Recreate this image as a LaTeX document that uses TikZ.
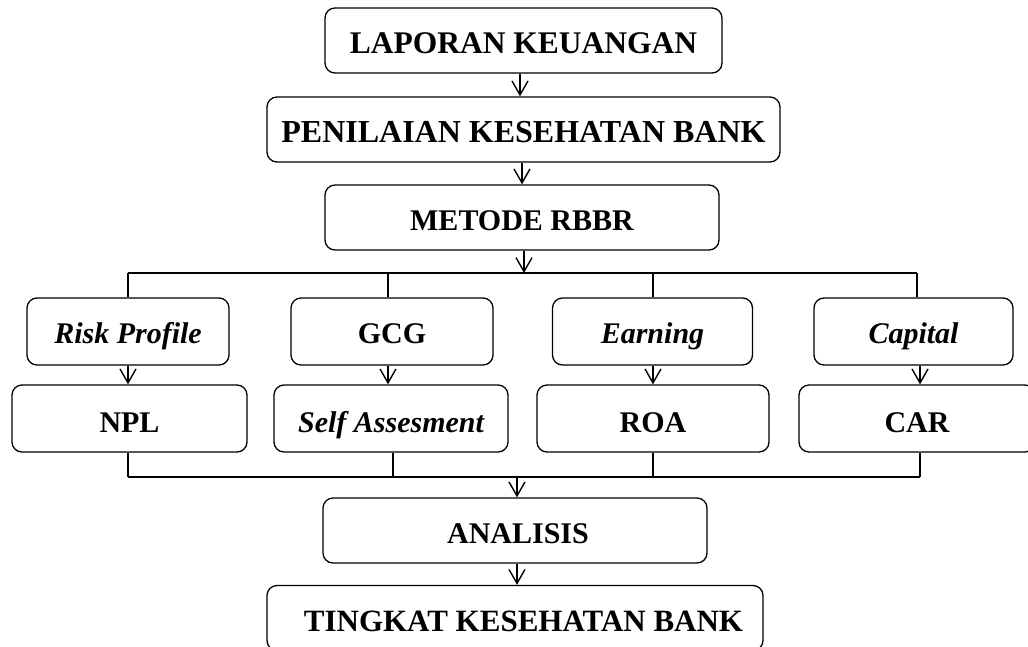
\documentclass[tikz,border=0pt]{standalone}
\usepackage{fontspec}
\setmainfont{Liberation Serif}
\usetikzlibrary{arrows.meta}
\tikzset{
  box/.style={draw=black, line width=1.3pt, rounded corners=10pt, inner sep=0pt,
    font=\fontsize{30}{34}\selectfont\bfseries, align=center,
    text height=26pt, text depth=1pt},
  rowone/.style={box, minimum height=67pt, text height=24pt, text depth=1pt},
  rowtwo/.style={box, minimum height=67pt, text height=28pt, text depth=1pt},
  conn/.style={draw=black, line width=1.4pt},
  arr/.style={conn, -{Straight Barb[length=14pt, width=16pt, line width=1.4pt]}}
}
\begin{document}
\begin{tikzpicture}[x=1pt, y=-1pt]
\useasboundingbox (0,0) rectangle (1028,646);
\clip (0,0) rectangle (1028,646);
% top chain
\node[box, font=\fontsize{31.5}{34}\selectfont\bfseries, minimum width=397pt, minimum height=65pt] (lap) at (523.5,40.5) {LAPORAN KEUANGAN};
\node[box, font=\fontsize{32}{36}\selectfont\bfseries, minimum width=513pt, minimum height=65pt] (pen) at (523.5,129.5) {PENILAIAN KESEHATAN BANK};
\node[box, minimum width=394pt, minimum height=65pt] (met) at (522,217.5) {METODE RBBR};
% row 1
\node[rowone, minimum width=202pt] (rp) at (128,331.5) {\itshape Risk Profile};
\node[rowone, minimum width=202pt] (gcg) at (392,331.5) {GCG};
\node[rowone, minimum width=200pt] (ear) at (652.5,331.5) {\itshape Earning};
\node[rowone, minimum width=199pt] (cap) at (913.5,331.5) {\itshape Capital};
% row 2
\node[rowtwo, minimum width=235pt] (npl) at (129.5,418.5) {NPL};
\node[rowtwo, minimum width=234pt] (sa) at (391,418.5) {\itshape Self Assesment};
\node[rowtwo, minimum width=232pt] (roa) at (653,418.5) {ROA};
\node[rowtwo, minimum width=236pt] (car) at (917,418.5) {CAR};
% bottom
\node[box, minimum width=384pt, minimum height=65pt] (ana) at (515,530.5) {\hspace*{6pt}ANALISIS};
\node[box, font=\fontsize{31}{34}\selectfont\bfseries, minimum width=496pt, minimum height=65pt,
  text height=28pt, text depth=1pt] (tkb) at (515,618) {\hspace*{17pt}TINGKAT KESEHATAN BANK};
% column coordinates
\coordinate (a1) at (520,0);
\coordinate (a2) at (522,0);
\coordinate (a3) at (524,0);
\coordinate (a4) at (517,0);
\coordinate (a5) at (517,0);
\coordinate (u1) at (128,273);
\coordinate (u2) at (388,273);
\coordinate (u3) at (653,273);
\coordinate (u4) at (917,273);
\coordinate (v1) at (128,477);
\coordinate (v2) at (393,477);
\coordinate (v3) at (653,477);
\coordinate (v4) at (920,477);
\coordinate (w4) at (920,0);
% connectors top
\draw[arr] (lap.south -| a1) -- (pen.north -| a1);
\draw[arr] (pen.south -| a2) -- (met.north -| a2);
\draw[arr] (met.south -| a3) -- (u1 -| a3);
\draw[conn] (u1) -- (u4);
\draw[conn] (u1) -- (rp.north -| u1);
\draw[conn] (u2) -- (gcg.north -| u2);
\draw[conn] (u3) -- (ear.north -| u3);
\draw[conn] (u4) -- (cap.north -| u4);
% row arrows
\draw[arr] (rp.south -| u1) -- (npl.north -| u1);
\draw[arr] (gcg.south -| u2) -- (sa.north -| u2);
\draw[arr] (ear.south -| u3) -- (roa.north -| u3);
\draw[arr] (cap.south -| w4) -- (car.north -| w4);
% bottom bus
\draw[conn] (npl.south -| v1) -- (v1);
\draw[conn] (sa.south -| v2) -- (v2);
\draw[conn] (roa.south -| v3) -- (v3);
\draw[conn] (car.south -| v4) -- (v4);
\draw[conn] (v1) -- (v4);
\draw[arr] (v1 -| a4) -- (ana.north -| a4);
\draw[arr] (ana.south -| a5) -- (tkb.north -| a5);
\end{tikzpicture}
\end{document}
